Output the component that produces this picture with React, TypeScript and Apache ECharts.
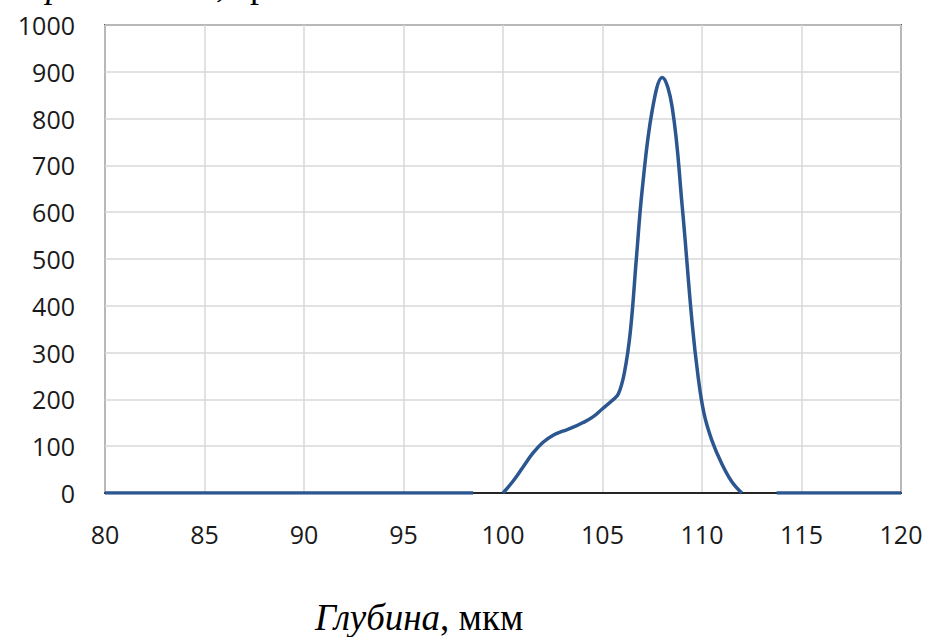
import React, { useEffect, useRef } from "react";
import * as echarts from "echarts";

const xTicks = [80, 85, 90, 95, 100, 105, 110, 115, 120];
const yTicks = [0, 100, 200, 300, 400, 500, 600, 700, 800, 900, 1000];

// flat zero segments
const leftFlatX = [80, 98.5];
const leftFlatY = [0, 0];
const rightFlatX = [113.75, 120];
const rightFlatY = [0, 0];

// main peak
const peakX = [100, 100.5, 101, 101.5, 102, 102.5, 103, 103.5, 104, 104.5, 105, 105.5, 105.8, 106.1, 106.4, 106.7, 107, 107.5, 108, 108.5, 109, 109.5, 109.8, 110.1, 110.5, 111, 111.5, 112];
const peakY = [0, 25, 55, 85, 108, 123, 132, 140, 150, 162, 180, 198, 212, 257, 345, 500, 650, 818, 888, 825, 615, 365, 250, 170, 112, 62, 24, 0];

const LINE_COLOR = "#2B5690";

function pairs(xs: number[], ys: number[]) {
  return xs.map((x, i) => [x, ys[i]]);
}

export default function App() {
  const ref = useRef<HTMLDivElement>(null);
  useEffect(() => {
    if (!ref.current) return;
    const chart = echarts.init(ref.current, undefined, { renderer: "svg" });
    const lineStyle = { color: LINE_COLOR, width: 3.5 };
    chart.setOption({
      animation: false,
      grid: {
        left: 105,
        right: 26,
        top: 25,
        bottom: 144,
        show: true,
        borderColor: "#595959",
        borderWidth: 2,
        containLabel: false,
      },
      xAxis: {
        type: "value",
        min: xTicks[0],
        max: xTicks[xTicks.length - 1],
        interval: 5,
        axisLine: { show: true, onZero: false, lineStyle: { color: "#262626", width: 2 } },
        axisTick: { show: false },
        axisLabel: {
          color: "#1a1a1a",
          fontFamily: "Open Sans",
          fontSize: 25,
          margin: 28,
          formatter: (v: number) => String(v),
        },
        splitLine: { show: true, lineStyle: { color: "#D9D9D9", width: 1.5 } },
      },
      yAxis: {
        type: "value",
        min: yTicks[0],
        max: yTicks[yTicks.length - 1],
        interval: 100,
        axisLine: { show: false },
        axisTick: { show: false },
        axisLabel: {
          color: "#1a1a1a",
          fontFamily: "Open Sans",
          fontSize: 25,
          margin: 30,
          formatter: (v: number) => String(v),
        },
        splitLine: { show: true, lineStyle: { color: "#D9D9D9", width: 1.5 } },
      },
      series: [
        {
          type: "line",
          data: pairs(leftFlatX, leftFlatY),
          showSymbol: false,
          symbol: "none",
          lineStyle,
          z: 3,
        },
        {
          type: "line",
          data: pairs(peakX, peakY),
          smooth: 0.4,
          showSymbol: false,
          symbol: "none",
          lineStyle,
          z: 3,
        },
        {
          type: "line",
          data: pairs(rightFlatX, rightFlatY),
          showSymbol: false,
          symbol: "none",
          lineStyle,
          z: 3,
        },
      ],
      graphic: [
        {
          type: "text",
          left: 315,
          top: 599,
          style: {
            text: "{i|Глубина}{r|, мкм}",
            rich: {
              i: { fontFamily: "Liberation Serif", fontStyle: "italic", fontSize: 37, fill: "#000" },
              r: { fontFamily: "Liberation Serif", fontSize: 37, fill: "#000" },
            },
          },
        },
        {
          type: "text",
          left: 46,
          top: -33,
          style: {
            text: "р",
            fontFamily: "Liberation Serif",
            fontStyle: "italic",
            fontSize: 36,
            fill: "#000",
          },
        },
        {
          type: "text",
          left: 216,
          top: -33,
          style: {
            text: ",",
            fontFamily: "Liberation Serif",
            fontSize: 36,
            fill: "#000",
          },
        },
        {
          type: "text",
          left: 250,
          top: -33,
          style: {
            text: "р",
            fontFamily: "Liberation Serif",
            fontSize: 36,
            fill: "#000",
          },
        },
      ],
    });
    return () => chart.dispose();
  }, []);
  return <div ref={ref} style={{ width: 927, height: 637, position: "absolute", left: 0, top: 0 }} />;
}
